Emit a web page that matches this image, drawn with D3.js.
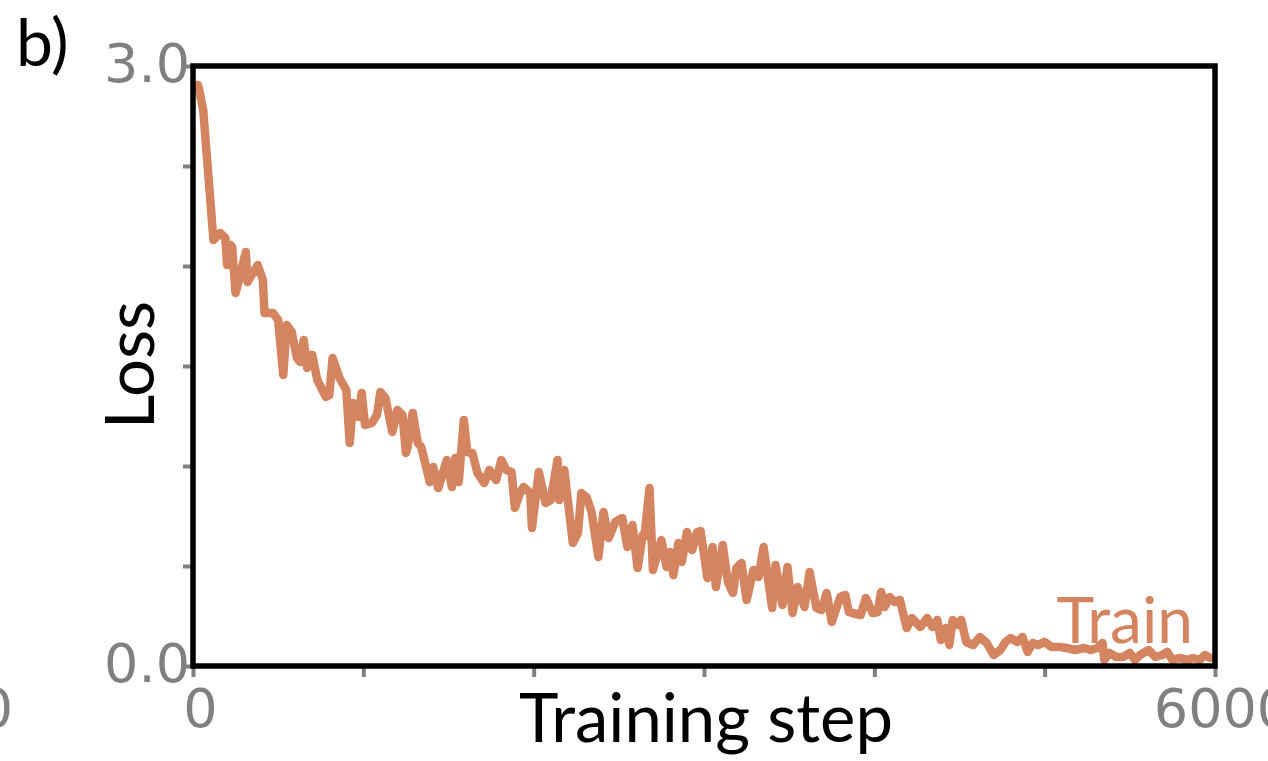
<!DOCTYPE html>
<html>
<head>
<meta charset="utf-8">
<script src="https://cdn.jsdelivr.net/npm/d3@7"></script>
<style>
  html, body { margin: 0; padding: 0; background: #fff; overflow: hidden; }
  svg { display: block; }
</style>
</head>
<body>
<script>
// training loss readings (step, loss)
var steps = [30, 60, 120, 160, 190, 200, 220, 230, 250, 280, 310, 320, 380, 410, 420, 470, 500, 530, 550, 580,
  610, 630, 650, 670, 690, 700, 730, 780, 800, 820, 860, 900, 920, 940, 970, 990, 1010, 1050, 1080, 1100,
  1130, 1170, 1200, 1230, 1250, 1260, 1290, 1320, 1340, 1390, 1410, 1440, 1490, 1520, 1540, 1560, 1590, 1610, 1640, 1670,
  1710, 1740, 1780, 1810, 1840, 1870, 1890, 1920, 1940, 1980, 1990, 2030, 2070, 2100, 2140, 2150, 2180, 2230, 2260, 2280,
  2310, 2340, 2380, 2410, 2440, 2480, 2520, 2550, 2580, 2610, 2640, 2650, 2680, 2700, 2750, 2780, 2800, 2820, 2850, 2870,
  2900, 2930, 2960, 2980, 3020, 3050, 3070, 3110, 3140, 3170, 3190, 3220, 3250, 3290, 3320, 3350, 3400, 3420, 3460, 3490,
  3520, 3550, 3590, 3620, 3660, 3690, 3720, 3750, 3800, 3830, 3850, 3870, 3920, 3950, 3990, 4020, 4040, 4060, 4090, 4120,
  4150, 4190, 4220, 4270, 4310, 4340, 4370, 4390, 4420, 4440, 4460, 4490, 4510, 4540, 4580, 4620, 4660, 4700, 4740, 4770,
  4800, 4840, 4870, 4900, 4930, 4960, 5000, 5040, 5090, 5130, 5180, 5230, 5270, 5310, 5340, 5350, 5380, 5420, 5460, 5500,
  5530, 5560, 5610, 5650, 5690, 5720, 5750, 5790, 5840, 5870, 5910, 5940, 5970];

var trainLoss = [2.905, 2.78, 2.13, 2.165, 2.14, 2.005, 2.105, 2.095, 1.865, 1.965, 2.07, 1.92, 2.005, 1.93, 1.765, 1.765, 1.73, 1.455, 1.705, 1.67,
  1.54, 1.52, 1.63, 1.49, 1.555, 1.555, 1.43, 1.345, 1.355, 1.54, 1.44, 1.38, 1.115, 1.315, 1.245, 1.365, 1.205, 1.215, 1.255, 1.37,
  1.34, 1.17, 1.28, 1.255, 1.065, 1.095, 1.265, 1.115, 1.095, 0.92, 0.995, 0.89, 1.03, 0.895, 1.04, 0.92, 1.23, 1.07, 1.065, 0.965,
  0.915, 0.98, 0.93, 1.03, 0.98, 0.97, 0.79, 0.865, 0.895, 0.865, 0.69, 0.97, 0.815, 0.83, 1.03, 0.83, 0.98, 0.615, 0.665, 0.865,
  0.845, 0.77, 0.545, 0.77, 0.64, 0.72, 0.74, 0.595, 0.705, 0.49, 0.655, 0.645, 0.89, 0.48, 0.63, 0.495, 0.57, 0.455, 0.615, 0.52,
  0.67, 0.58, 0.67, 0.675, 0.44, 0.595, 0.395, 0.605, 0.42, 0.365, 0.49, 0.515, 0.33, 0.48, 0.445, 0.595, 0.29, 0.505, 0.305, 0.495,
  0.265, 0.395, 0.295, 0.47, 0.29, 0.28, 0.365, 0.22, 0.345, 0.355, 0.27, 0.265, 0.255, 0.34, 0.265, 0.27, 0.37, 0.295, 0.345, 0.32,
  0.33, 0.19, 0.24, 0.195, 0.24, 0.195, 0.23, 0.13, 0.19, 0.105, 0.23, 0.205, 0.23, 0.12, 0.105, 0.145, 0.115, 0.055, 0.08, 0.12,
  0.14, 0.12, 0.145, 0.07, 0.115, 0.105, 0.12, 0.095, 0.095, 0.09, 0.08, 0.09, 0.08, 0.09, 0.115, 0.03, 0.065, 0.045, 0.045, 0.065,
  0.03, 0.055, 0.08, 0.045, 0.055, 0.07, 0.03, 0.04, 0.03, 0.04, 0.03, 0.055, 0.04];

var xTicks = [0, 1000, 2000, 3000, 4000, 5000, 6000];
var yTicks = [0, 0.5, 1.0, 1.5, 2.0, 2.5, 3.0];
var xTickLabels = {0: "0", 6000: "6000"};
var yTickLabels = {0: "0.0", 3: "3.0"};

var width = 1268, height = 761;
var margin = {left: 193, top: 66, right: 53, bottom: 95};
var plotW = width - margin.left - margin.right;
var plotH = height - margin.top - margin.bottom;

var trainColour = "#d4845f";
var tickColour = "#808080";
var labelFont = "Lato, 'Open Sans', sans-serif";
var tickFont = "'DejaVu Sans', sans-serif";

var svg = d3.select("body").append("svg")
  .attr("width", width)
  .attr("height", height);

var canvas = svg.append("g")
  .attr("transform", "translate(" + margin.left + "," + margin.top + ")");

var xScale = d3.scaleLinear().domain([0, 6000]).range([0, plotW]);
var yScale = d3.scaleLinear().domain([0, 3]).range([plotH, 0]);

var data = steps.map(function(s, i) {
  return {step: s, loss: trainLoss[i]};
});

canvas.append("clipPath").attr("id", "plotclip")
  .append("rect")
  .attr("width", plotW)
  .attr("height", plotH);

// y axis ticks
var yAxis = canvas.append("g")
  .call(d3.axisLeft(yScale).tickValues(yTicks).tickSize(10).tickSizeOuter(0)
    .tickFormat(function(d) { return yTickLabels[d] || ""; }));
yAxis.select(".domain").remove();
yAxis.selectAll(".tick line").attr("stroke", tickColour).attr("stroke-width", 4);
yAxis.selectAll(".tick text")
  .attr("x", -3)
  .attr("dy", "0.29em")
  .attr("fill", tickColour)
  .style("font-family", tickFont)
  .style("font-size", "54px");

// x axis ticks
var xAxis = canvas.append("g")
  .attr("transform", "translate(0," + plotH + ")")
  .call(d3.axisBottom(xScale).tickValues(xTicks).tickSize(11).tickSizeOuter(0)
    .tickFormat(function(d) { return xTickLabels[d] || ""; }));
xAxis.select(".domain").remove();
xAxis.selectAll(".tick line").attr("stroke", tickColour).attr("stroke-width", 4);
xAxis.selectAll(".tick text")
  .attr("x", 7)
  .attr("y", 61)
  .attr("dy", 0)
  .attr("fill", tickColour)
  .style("font-family", tickFont)
  .style("font-size", "54px");

// stray label at left edge
svg.append("text")
  .attr("x", -4)
  .attr("y", 727)
  .attr("text-anchor", "middle")
  .attr("fill", tickColour)
  .style("font-family", tickFont)
  .style("font-size", "54px")
  .text("0");

// loss curve
var line = d3.line()
  .x(function(d) { return xScale(d.step); })
  .y(function(d) { return yScale(d.loss); });

canvas.append("path")
  .datum(data)
  .attr("clip-path", "url(#plotclip)")
  .attr("d", line)
  .attr("fill", "none")
  .attr("stroke", trainColour)
  .attr("stroke-width", 8.5)
  .attr("stroke-linejoin", "round")
  .attr("stroke-linecap", "round");

// frame
canvas.append("rect")
  .attr("width", plotW)
  .attr("height", plotH)
  .attr("fill", "none")
  .attr("stroke", "#000")
  .attr("stroke-width", 5.5);

// legend text
canvas.append("text")
  .attr("x", plotW - 22)
  .attr("y", plotH - 23)
  .attr("text-anchor", "end")
  .attr("fill", trainColour)
  .style("font-family", labelFont)
  .style("font-size", "64px")
  .text("Train");

// axis titles
svg.append("text")
  .attr("x", 706)
  .attr("y", 742)
  .attr("text-anchor", "middle")
  .attr("fill", "#000")
  .style("font-family", labelFont)
  .style("font-size", "67px")
  .text("Training step");

svg.append("text")
  .attr("transform", "translate(154,365) rotate(-90)")
  .attr("text-anchor", "middle")
  .attr("fill", "#000")
  .style("font-family", labelFont)
  .style("font-size", "67px")
  .text("Loss");

// panel letter
svg.append("text")
  .attr("x", 16)
  .attr("y", 66)
  .attr("fill", "#000")
  .style("font-family", labelFont)
  .style("font-size", "66px")
  .text("b)");
</script>
</body>
</html>
